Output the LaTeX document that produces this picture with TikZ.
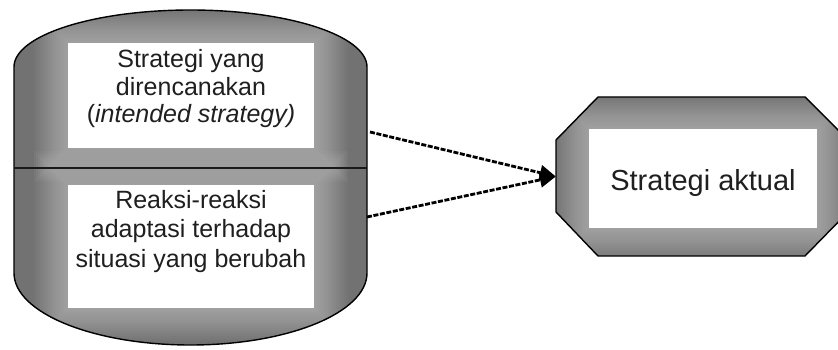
\documentclass[tikz,border=0pt]{standalone}
\usepackage{fontspec}
\setmainfont{Liberation Sans}
\usetikzlibrary{arrows.meta}
\definecolor{shapegray}{HTML}{727272}
\tikzset{
  outline/.style={draw=black, line width=1.4pt},
  whitebox/.style={fill=white, draw=none, inner sep=0pt},
  glow/.style={fill=white, opacity=0.028},
  lbl/.style={align=center, inner sep=0pt, text=black!88},
  flow/.style={line width=2.8pt, dash pattern=on 5pt off 1.6pt, -{Triangle[length=16pt,width=15pt]}},
}
\begin{document}
\begin{tikzpicture}[x=1pt,y=-1pt]
\useasboundingbox (0,0) rectangle (838,350);
% ---- left cylinder ----
\begin{scope}
  \clip (14,67) -- (14,273) arc[start angle=180,end angle=0,x radius=176.5,y radius=72]
        -- (367,67) arc[start angle=0,end angle=-180,x radius=176.5,y radius=57] -- cycle;
  \fill[shapegray] (0,0) rectangle (400,350);
  \foreach \d in {34,32,...,2} {
    \fill[glow] (68-\d,43-\d) rectangle (314+\d,148+\d);
    \fill[glow] (68-\d,185-\d) rectangle (314+\d,308+\d);
  }
\end{scope}
\draw[outline] (14,67) -- (14,273) arc[start angle=180,end angle=0,x radius=176.5,y radius=72]
        -- (367,67) arc[start angle=0,end angle=-180,x radius=176.5,y radius=57] -- cycle;
\coordinate (midl) at (14,168);
\coordinate (midr) at (367,168);
\draw[line width=2.4pt, black!90] (midl) -- (midr);
\node[whitebox, minimum width=246pt, minimum height=105pt] (plan) at (191,95.5) {};
\node[whitebox, minimum width=246pt, minimum height=123pt] (react) at (191,246.5) {};
\node[lbl, font=\fontsize{25}{27.5}\selectfont, anchor=north] (plantext) at (191,49.5)
  {Strategi yang\\direncanakan\\(\textit{intended strategy)}};
\node[lbl, font=\fontsize{25}{29.5}\selectfont, anchor=north] (reacttext) at (191,190)
  {Reaksi-reaksi\\adaptasi terhadap\\situasi yang berubah};
% ---- right octagon ----
\node[draw=none, inner sep=0pt, minimum width=292pt, minimum height=159pt] (oct) at (702,176.5) {};
\begin{scope}
  \clip (556,140) -- (598,97) -- (805,97) -- (848,140) -- (848,212)
        -- (805,256) -- (598,256) -- (556,212) -- cycle;
  \fill[shapegray] (550,90) rectangle (850,260);
  \foreach \d in {34,32,...,2} {
    \fill[glow] (589-\d,129-\d) rectangle (817+\d,228+\d);
  }
\end{scope}
\draw[outline] (556,140) -- (598,97) -- (805,97) -- (848,140) -- (848,212)
        -- (805,256) -- (598,256) -- (556,212) -- cycle;
\node[whitebox, minimum width=228pt, minimum height=99pt] (actbox) at (703,178.5) {};
\node[lbl, font=\fontsize{29}{33}\selectfont, anchor=base] (acttext) at (703,190) {Strategi aktual};
% ---- connectors ----
\coordinate (s1) at (370,132);
\coordinate (s2) at (367,217);
\draw[flow] (s1) -- (oct.west);
\draw[flow] (s2) -- (oct.west);
\end{tikzpicture}
\end{document}
